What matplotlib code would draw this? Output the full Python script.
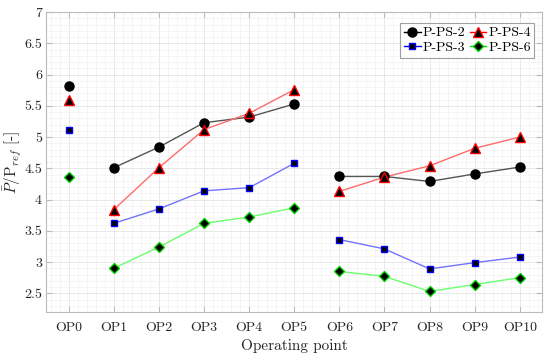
import numpy as np
import matplotlib
matplotlib.use("Agg")
import matplotlib.pyplot as plt
from matplotlib.ticker import MultipleLocator
from matplotlib.lines import Line2D

plt.rcParams['font.family'] = 'serif'
plt.rcParams['font.serif'] = ['cmr10']
plt.rcParams['mathtext.fontset'] = 'cm'
plt.rcParams['axes.formatter.use_mathtext'] = True

op_labels = ["OP0", "OP1", "OP2", "OP3", "OP4", "OP5",
             "OP6", "OP7", "OP8", "OP9", "OP10"]

p_ps2 = [5.81, 4.51, 4.84, 5.23, 5.32, 5.53, 4.37, 4.37, 4.29, 4.41, 4.52]
p_ps4 = [5.60, 3.84, 4.51, 5.12, 5.38, 5.76, 4.13, 4.36, 4.54, 4.82, 5.00]
p_ps3 = [5.12, 3.62, 3.85, 4.14, 4.19, 4.58, 3.36, 3.21, 2.89, 2.99, 3.08]
p_ps6 = [4.36, 2.90, 3.24, 3.62, 3.72, 3.87, 2.85, 2.77, 2.53, 2.64, 2.75]

# groups of operating points joined by lines
groups = [(0, 1), (1, 6), (6, 11)]

series = [
    ("P-PS-2", p_ps2, "#555555", "black", "o", 6.5),
    ("P-PS-4", p_ps4, "#ff6b6b", "red", "^", 7),
    ("P-PS-3", p_ps3, "#7373ff", "blue", "s", 5),
    ("P-PS-6", p_ps6, "#6bff6b", "#00cc00", "D", 4.8),
]

fig = plt.figure(figsize=(5.5, 3.57), dpi=100)
ax = fig.add_axes([0.084, 0.126, 0.902, 0.84])

x = np.arange(len(op_labels))
handles = {}
for name, vals, lc, ec, mk, ms in series:
    vals = np.array(vals)
    for a, b in groups:
        ax.plot(x[a:b], vals[a:b], color=lc, lw=1.0, zorder=2)
        ax.plot(x[a:b], vals[a:b], ls="none", marker=mk, ms=ms,
                mfc="black", mec=ec, mew=1.0, zorder=3)
    handles[name] = Line2D([], [], color=ec if ec != "#00cc00" else "#00dd00",
                           lw=1.0, marker=mk, ms=ms,
                           mfc="black", mec=ec, mew=1.0)

ax.set_xlim(-0.5, 10.5)
ax.set_ylim(2.2, 7)
ax.set_xticks(x)
ax.set_xticklabels(op_labels)
ax.yaxis.set_minor_locator(MultipleLocator(0.1))
ax.xaxis.set_minor_locator(MultipleLocator(0.2))
ax.set_yticks(np.arange(2.5, 7.01, 0.5))
ax.set_yticklabels(["2.5", "3", "3.5", "4", "4.5", "5", "5.5", "6", "6.5", "7"])

ax.grid(True, which="major", color="#e4e4e4", lw=0.6)
ax.grid(True, which="minor", color="#f1f1f1", lw=0.5)
ax.set_axisbelow(True)
ax.tick_params(which="both", direction="in", top=True, right=True,
               colors="#262626", labelsize=10)
ax.tick_params(which="minor", length=0)
ax.tick_params(which="major", length=4, color="#bbbbbb")
ax.tick_params(axis="x", which="major", pad=7)
ax.tick_params(axis="y", which="major", pad=3)
for s in ax.spines.values():
    s.set_color("#bbbbbb")
    s.set_linewidth(0.8)

ax.set_xlabel("Operating point", fontsize=11, color="#262626", labelpad=4)
ax.set_ylabel(r"$\bar{P}/\mathrm{P}_{ref}$ [-]", fontsize=11,
              color="#262626")
ax.yaxis.set_label_coords(-0.046, 0.5)

order = ["P-PS-2", "P-PS-3", "P-PS-4", "P-PS-6"]
leg = ax.legend([handles[n] for n in order], order, ncol=2, loc="upper right",
                fontsize=10, frameon=True, fancybox=False, handlelength=1.2,
                handletextpad=0.15, columnspacing=0.3, borderpad=0.25,
                labelspacing=0.15, borderaxespad=0,
                bbox_to_anchor=(0.984, 0.963))
leg.get_frame().set_edgecolor("#888888")
leg.get_frame().set_linewidth(0.8)

fig.savefig("out.png", dpi=100)
